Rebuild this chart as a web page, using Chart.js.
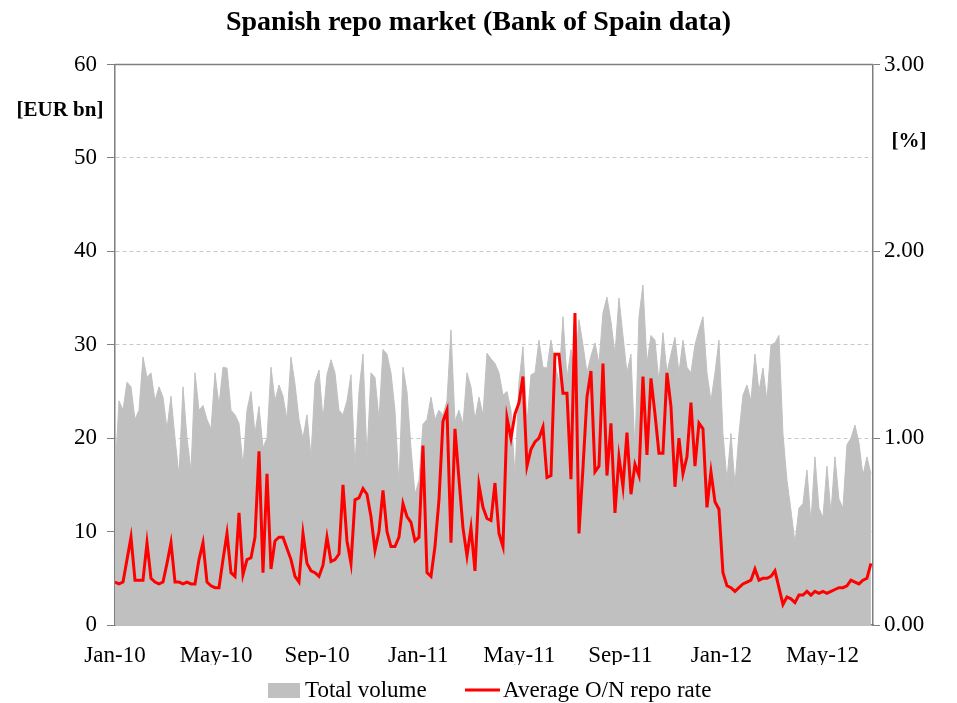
<!DOCTYPE html>
<html>
<head>
<meta charset="utf-8">
<title>Spanish repo market</title>
<script src="https://cdn.jsdelivr.net/npm/chart.js@4.4.1/dist/chart.umd.min.js"></script>
<style>
    html, body { margin: 0; padding: 0; background: #fff; }
    #wrap { width: 957px; height: 703px; position: relative; }
</style>
</head>
<body>
<div id="wrap"><canvas id="repo"></canvas></div>
<script>
// x axis: months since Jan-10, one point roughly every 4.8 days
const tickLabels = ['Jan-10', 'May-10', 'Sep-10', 'Jan-11', 'May-11', 'Sep-11', 'Jan-12', 'May-12'];
const monthsShown = 30;
const step = 0.1583;

// Total volume, EUR bn
const volume = [
    16, 24, 23, 26, 25.5, 22, 23, 28.7, 26.5, 27,
    24, 25.5, 24.4, 21, 24.5, 20, 16, 25.5, 20, 16.5,
    27, 23, 23.5, 22, 21, 27, 23.5, 27.6, 27.5, 23,
    22.5, 21.6, 17, 23, 25, 20.5, 23.4, 19, 20, 27.6,
    24, 25.7, 24.5, 22, 28.7, 25.8, 22, 20, 22.5, 18,
    26, 27.3, 22, 26.8, 28.4, 27, 23, 22.5, 24, 26.8,
    17, 25, 29, 18, 27, 26.5, 22, 29.5, 29, 27,
    23, 15, 27.6, 25, 19, 14, 15.5, 21.5, 22, 24.4,
    22, 23, 22.5, 24, 31.6, 21.8, 23, 21.5, 27, 25.5,
    22, 24.4, 22.5, 29.1, 28.5, 28, 27, 24.6, 25, 23,
    16, 26, 29.8, 21.6, 26.8, 27, 30.5, 27.6, 27.5, 30.5,
    28, 26, 33, 26.4, 29.5, 27, 32.7, 30, 27, 28.8,
    30.2, 28, 33.4, 35.1, 32.5, 29, 35, 31, 27, 29,
    18.6, 33, 36.4, 28, 31, 30.5, 26, 31.3, 27, 29,
    30.8, 27, 30.5, 27.6, 27, 30, 31.6, 33, 27, 24,
    27, 30.5, 20.5, 15.5, 20.5, 15, 20.5, 24.6, 25.7, 24,
    29, 25, 27.5, 24, 30, 30.2, 31, 20.5, 15.5, 12.3,
    8.8, 12.5, 13, 16.6, 11, 18, 12.5, 11.5, 17, 12,
    18, 13.5, 12.5, 19.3, 20, 21.4, 19.5, 16, 18, 16.2
];

// Average O/N repo rate, %
const repoRate = [
    0.23, 0.22, 0.23, 0.35, 0.47, 0.24, 0.24, 0.24, 0.44, 0.25,
    0.23, 0.22, 0.23, 0.33, 0.44, 0.23, 0.23, 0.22, 0.23, 0.22,
    0.22, 0.35, 0.44, 0.23, 0.21, 0.2, 0.2, 0.35, 0.49, 0.28,
    0.26, 0.6, 0.27, 0.35, 0.36, 0.47, 0.93, 0.28, 0.81, 0.3,
    0.45, 0.47, 0.47, 0.41, 0.35, 0.26, 0.23, 0.49, 0.33, 0.29,
    0.28, 0.26, 0.32, 0.47, 0.34, 0.35, 0.38, 0.75, 0.45, 0.33,
    0.67, 0.68, 0.73, 0.7, 0.58, 0.4, 0.5, 0.72, 0.5, 0.42,
    0.42, 0.47, 0.65, 0.58, 0.55, 0.45, 0.47, 0.96, 0.28, 0.26,
    0.42, 0.67, 1.09, 1.15, 0.44, 1.05, 0.78, 0.52, 0.37, 0.52,
    0.29, 0.75, 0.63, 0.57, 0.56, 0.76, 0.49, 0.42, 1.11, 1.0,
    1.13, 1.19, 1.33, 0.85, 0.94, 0.98, 1.0, 1.06, 0.79, 0.8,
    1.45, 1.45, 1.24, 1.24, 0.78, 1.67, 0.49, 0.84, 1.22, 1.36,
    0.82, 0.85, 1.4, 0.8, 1.08, 0.6, 0.9, 0.74, 1.03, 0.7,
    0.86, 0.8, 1.33, 0.91, 1.32, 1.13, 0.92, 0.92, 1.35, 1.17,
    0.74, 1.0, 0.81, 0.9, 1.19, 0.85, 1.08, 1.05, 0.63, 0.82,
    0.66, 0.62, 0.28, 0.21, 0.2, 0.18, 0.2, 0.22, 0.23, 0.24,
    0.3, 0.24, 0.25, 0.25, 0.26, 0.29, 0.2, 0.11, 0.15, 0.14,
    0.12, 0.16, 0.16, 0.18, 0.16, 0.18, 0.17, 0.18, 0.17, 0.18,
    0.19, 0.2, 0.2, 0.21, 0.24, 0.23, 0.22, 0.24, 0.25, 0.33
];

const serif = '"Liberation Serif", "Times New Roman", serif';
const axisGrey = '#7f7f7f';

const toPoints = (arr) => arr.map((v, i) => ({ x: i * step, y: v }));

// unit labels, top frame line and the legend
const extras = {
    id: 'extras',
    afterDraw(chart) {
        const { ctx, chartArea } = chart;
        ctx.save();
        ctx.strokeStyle = axisGrey;
        ctx.lineWidth = 1.5;
        ctx.beginPath();
        ctx.moveTo(chartArea.left, chartArea.top);
        ctx.lineTo(chartArea.right, chartArea.top);
        ctx.stroke();

        ctx.fillStyle = '#000';
        ctx.font = 'bold 21px ' + serif;
        ctx.textAlign = 'center';
        ctx.textBaseline = 'middle';
        ctx.fillText('[EUR bn]', 60, 111);
        ctx.fillText('[%]', 909, 142);

        ctx.font = '23px ' + serif;
        ctx.textAlign = 'left';
        ctx.fillStyle = '#c0c0c0';
        ctx.fillRect(268, 683, 32, 15);
        ctx.fillStyle = '#000';
        ctx.fillText('Total volume', 305, 691);
        ctx.strokeStyle = '#ff0000';
        ctx.lineWidth = 3;
        ctx.beginPath();
        ctx.moveTo(465, 690);
        ctx.lineTo(500, 690);
        ctx.stroke();
        ctx.fillText('Average O/N repo rate', 503, 691);
        ctx.restore();
    },
};

new Chart(document.getElementById('repo').getContext('2d'), {
    type: 'line',
    data: {
        datasets: [
            {
                label: 'Average O/N repo rate',
                data: toPoints(repoRate),
                yAxisID: 'y1',
                borderColor: '#ff0000',
                borderWidth: 3,
                pointRadius: 0,
                tension: 0,
                fill: false,
                order: 0,
            },
            {
                label: 'Total volume',
                data: toPoints(volume),
                yAxisID: 'y',
                borderColor: '#c0c0c0',
                borderWidth: 1,
                backgroundColor: '#c0c0c0',
                pointRadius: 0,
                tension: 0,
                fill: 'origin',
                order: 1,
            },
        ],
    },
    options: {
        responsive: true,
        maintainAspectRatio: false,
        animation: false,
        layout: { padding: { left: 0, right: 0, top: 0, bottom: 38 } },
        plugins: {
            legend: { display: false },
            tooltip: { enabled: false },
            title: {
                display: true,
                text: 'Spanish repo market (Bank of Spain data)',
                color: '#000',
                font: { family: serif, size: 28, weight: 'bold' },
                padding: { top: 6, bottom: 25 },
            },
        },
        scales: {
            x: {
                type: 'linear',
                min: 0,
                max: monthsShown,
                afterBuildTicks: (scale) => {
                    scale.ticks = tickLabels.map((_, i) => ({ value: i * 4 }));
                },
                afterFit: (scale) => { scale.height = 40; },
                ticks: {
                    autoSkip: false,
                    maxRotation: 0,
                    padding: 17,
                    color: '#000',
                    font: { family: serif, size: 23 },
                    callback: (v) => tickLabels[Math.round(v / 4)],
                },
                grid: { display: false, drawTicks: false },
                border: { display: true, color: axisGrey, width: 1.5 },
            },
            y: {
                position: 'left',
                min: 0,
                max: 60,
                afterFit: (scale) => { scale.width = 115; },
                ticks: {
                    stepSize: 10,
                    padding: 10,
                    color: '#000',
                    font: { family: serif, size: 23 },
                },
                grid: {
                    color: (ctx) => (ctx.tick && (ctx.tick.value === 0 || ctx.tick.value === 60)) ? 'rgba(0,0,0,0)' : '#c8c8c8',
                    tickColor: axisGrey,
                    tickLength: 8,
                    tickBorderDash: [],
                    lineWidth: 1,
                },
                border: { display: true, color: axisGrey, width: 1.5, dash: [4, 3] },
            },
            y1: {
                position: 'right',
                min: 0,
                max: 3,
                afterFit: (scale) => { scale.width = 84; },
                ticks: {
                    stepSize: 1,
                    padding: 4,
                    color: '#000',
                    font: { family: serif, size: 23 },
                    callback: (v) => v.toFixed(2),
                },
                grid: {
                    drawOnChartArea: false,
                    tickColor: axisGrey,
                    tickLength: 7,
                },
                border: { display: true, color: axisGrey, width: 1.5 },
            },
        },
    },
    plugins: [extras],
});
</script>
</body>
</html>
